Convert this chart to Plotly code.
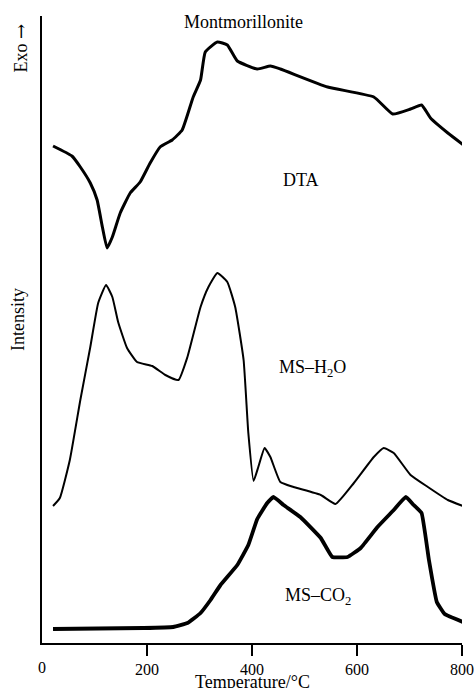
import plotly.graph_objects as go

# ---- data (arbitrary intensity units) ----
dta_t = [21, 57, 73, 92, 105, 115, 124, 134, 149, 168, 187, 206, 225, 248, 267,
         288, 302, 311, 334, 353, 372, 410, 435, 454, 544, 632, 668, 702, 723,
         740, 773, 803]
dta_v = [497, 487, 476, 460, 443, 416, 395, 406, 430, 450, 461, 480, 496, 503, 513,
         546, 563, 591, 601, 598, 582, 574, 577, 574, 556, 546, 529, 534, 538,
         525, 510, 498]

h2o_t = [21, 34, 53, 73, 92, 107, 122, 134, 145, 162, 181, 210, 235, 260, 277,
         302, 317, 334, 353, 368, 384, 393, 403, 412, 424, 435, 454, 479, 531,
         559, 594, 632, 651, 670, 702, 735, 773, 802]
h2o_v = [137, 145, 183, 243, 296, 340, 358, 346, 321, 295, 281, 277, 268, 263, 286,
         336, 356, 370, 361, 336, 283, 210, 162, 176, 195, 186, 161, 156, 148,
         139, 160, 186, 195, 190, 168, 156, 143, 137]

co2_t = [21, 193, 250, 277, 302, 321, 340, 372, 393, 410, 429, 441, 460, 492, 531,
         553, 582, 607, 639, 670, 693, 708, 723, 737, 752, 767, 802]
co2_v = [14, 15, 16, 20, 30, 43, 58, 78, 98, 124, 140, 146, 138, 126, 105,
         86, 86, 95, 116, 133, 146, 138, 130, 83, 41, 29, 21]

tick_vals = [0, 200, 400, 600, 800]
tick_text = ["0", "200", "400", "600", "800"]

SERIF = "Liberation Serif, Times New Roman, serif"

fig = go.Figure()
fig.add_trace(go.Scatter(x=dta_t, y=dta_v, mode="lines",
                         line=dict(color="black", width=3, shape="spline", smoothing=0.4)))
fig.add_trace(go.Scatter(x=h2o_t, y=h2o_v, mode="lines",
                         line=dict(color="black", width=2, shape="spline", smoothing=0.4)))
fig.add_trace(go.Scatter(x=co2_t, y=co2_v, mode="lines",
                         line=dict(color="black", width=3.8, shape="spline", smoothing=0.3)))

fig.update_layout(
    width=474, height=688,
    margin=dict(l=42, r=12, t=16, b=45, autoexpand=False),
    paper_bgcolor="white", plot_bgcolor="white",
    showlegend=False,
    font=dict(family=SERIF, size=16, color="black"),
    xaxis=dict(range=[0, 800], showgrid=False, zeroline=False, automargin=False,
               showline=True, linecolor="black", linewidth=1.5,
               ticks="outside", ticklen=11, tickwidth=1.5, tickcolor="black",
               tickvals=tick_vals[1:], ticktext=tick_text[1:],
               tickfont=dict(family=SERIF, size=16, color="black")),
    yaxis=dict(range=[0, 627], showgrid=False, zeroline=False, automargin=False,
               showline=True, linecolor="black", linewidth=1.5,
               showticklabels=False, ticks=""),
)

def txt(size):
    return dict(family=SERIF, size=size, color="black")

# "0" label under the origin
fig.add_annotation(x=tick_vals[0], y=0, xref="x", yref="paper", text=tick_text[0],
                   showarrow=False, xanchor="center", yanchor="top", yshift=-14,
                   font=txt(16))
# axis title
fig.add_annotation(x=0.5, y=0, xref="paper", yref="paper", text="Temperature/°C",
                   showarrow=False, xanchor="center", yanchor="top", yshift=-27,
                   font=txt(18))

def add_label(text, px, py, size=18):
    fig.add_annotation(x=px, y=py, xref="x", yref="y", text=text, showarrow=False,
                       xanchor="center", yanchor="middle", font=txt(size))

add_label("Montmorillonite", 384, 621)
add_label("DTA", 493, 463)
add_label("MS–H<sub>2</sub>O", 515, 275)
add_label("MS–CO<sub>2</sub>", 525, 47)

# rotated labels on the left
fig.add_annotation(x=0, y=(643 - 48) / 627, xref="paper", yref="paper",
                   text="Exo <span style='font-family:DejaVu Serif'>→</span>",
                   showarrow=False, textangle=-90, xanchor="right", yanchor="middle",
                   xshift=-10, font=txt(18))
fig.add_annotation(x=0, y=(643 - 320) / 627, xref="paper", yref="paper", text="Intensity",
                   showarrow=False, textangle=-90, xanchor="right", yanchor="middle",
                   xshift=-12, font=txt(18))

fig.write_html("out.html")
